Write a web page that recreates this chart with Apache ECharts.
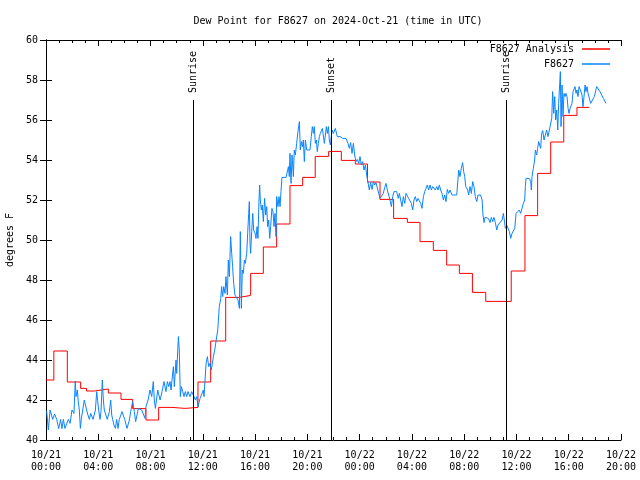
<!DOCTYPE html>
<html><head><meta charset="utf-8">
<script src="https://cdn.jsdelivr.net/npm/echarts@6/dist/echarts.min.js"></script>
<style>html,body{margin:0;padding:0;background:#fff}#c{width:640px;height:480px}</style>
</head><body><div id="c"></div>
<script>
const titleText = 'Dew Point for F8627 on 2024-Oct-21 (time in UTC)';
const xTickLabels = ['10/21\n00:00','10/21\n04:00','10/21\n08:00','10/21\n12:00','10/21\n16:00','10/21\n20:00','10/22\n00:00','10/22\n04:00','10/22\n08:00','10/22\n12:00','10/22\n16:00','10/22\n20:00'];
// hours since 2024-10-21 00:00 UTC
const sunTimes = [11.25, 21.81, 35.2];
const sunLabels = ['Sunrise', 'Sunset', 'Sunrise'];

// F8627 Analysis (hourly step values), start time of each step
const anaTimes = [0,0.6,1.63,2.65,3.1,3.7,4.77,5.74,6.63,7.65,8.62,9.64,10.66,11.63,12.6,13.75,14.79,15.66,16.63,17.65,18.67,19.64,20.6,21.63,22.6,23.67,24.6,25.56,26.6,27.65,28.62,29.64,30.66,31.63,32.63,33.65,35.6,36.65,37.62,38.62,39.62,40.63,41.57];
const anaValues = [43.0,44.45,42.9,42.58,42.45,42.55,42.35,42.03,41.57,41.0,41.63,41.58,41.63,42.9,44.95,47.13,47.23,48.33,49.65,50.8,52.72,53.13,54.18,54.43,53.98,53.8,52.9,52.03,51.08,50.88,49.92,49.48,48.75,48.33,47.38,46.93,48.45,51.22,53.33,54.9,56.23,56.63,56.63];

// F8627 observations
const obsTimes = [0.05,0.18,0.31,0.51,0.66,0.82,0.97,1.12,1.22,1.33,1.45,1.71,1.84,1.99,2.14,2.24,2.30,2.40,2.47,2.55,2.63,2.70,2.81,2.93,3.01,3.11,3.21,3.32,3.42,3.60,3.78,3.88,3.95,4.03,4.13,4.21,4.31,4.39,4.46,4.69,4.85,4.95,5.03,5.10,5.20,5.31,5.41,5.51,5.61,5.82,6.02,6.20,6.38,6.48,6.63,6.76,6.86,7.07,7.32,7.58,7.65,7.81,7.96,8.09,8.21,8.29,8.37,8.55,8.73,8.88,9.03,9.18,9.29,9.39,9.49,9.57,9.64,9.75,9.82,9.95,10.00,10.13,10.20,10.28,10.36,10.46,10.56,10.66,10.77,10.87,11.02,11.15,11.33,11.43,11.53,11.63,11.79,11.89,12.04,12.09,12.25,12.35,12.45,12.55,12.65,12.81,12.91,
13.01,13.14,13.26,13.37,13.44,13.52,13.60,13.70,13.77,13.88,13.95,14.03,14.08,14.13,14.21,14.28,14.36,14.46,14.59,14.69,14.80,14.87,14.95,15.02,15.10,15.18,15.25,15.36,15.43,15.51,15.56,15.61,15.66,15.74,15.82,15.89,16.00,16.07,16.15,16.22,16.30,16.35,16.40,16.48,16.55,16.63,16.73,16.81,16.89,16.96,17.04,17.12,17.19,17.29,17.37,17.45,17.52,17.60,17.65,17.75,17.83,17.91,17.98,18.06,18.21,18.37,18.47,18.55,18.62,18.67,18.75,18.83,18.93,19.00,19.08,19.18,19.28,19.39,19.46,19.54,19.62,19.69,19.77,19.85,19.95,20.08,20.20,20.30,20.38,20.46,20.53,20.61,20.69,20.76,20.84,20.92,20.99,21.07,21.15,21.22,21.30,21.38,21.45,21.53,21.61,21.68,21.76,21.84,21.91,
21.99,22.14,22.29,22.50,22.70,22.80,22.96,23.11,23.21,23.31,23.42,23.52,23.62,23.72,23.82,23.93,24.03,24.13,24.23,24.33,24.44,24.54,24.64,24.74,24.84,24.95,25.05,25.15,25.25,25.36,25.46,25.56,25.71,25.81,25.92,26.02,26.12,26.22,26.32,26.43,26.53,26.63,26.83,26.96,27.04,27.14,27.24,27.35,27.45,27.55,27.65,27.75,27.86,27.96,28.06,28.16,28.26,28.37,28.47,28.57,28.67,28.77,28.88,28.98,29.08,29.18,29.28,29.39,29.49,29.59,29.69,29.79,29.90,30.00,30.10,30.20,30.30,30.41,30.51,30.61,30.71,30.81,30.92,31.07,31.22,31.43,31.53,31.58,31.68,31.78,31.88,31.96,32.04,32.12,32.19,32.27,32.34,32.45,32.55,32.65,32.75,32.85,32.96,33.06,33.16,33.26,33.37,33.44,33.52,33.59,33.72,33.85,33.98,34.08,34.18,34.28,34.39,34.49,34.59,34.74,34.90,35.00,35.07,35.15,35.25,35.38,35.46,35.56,35.66,35.76,35.87,35.97,
36.12,36.22,36.32,36.43,36.53,36.63,36.68,36.73,36.86,36.99,37.09,37.14,37.19,37.29,37.39,37.45,37.55,37.62,37.70,37.78,37.85,37.93,38.01,38.11,38.21,38.31,38.41,38.52,38.62,38.70,38.77,38.85,38.93,39.00,39.08,39.16,39.23,39.31,39.36,39.41,39.49,39.56,39.64,39.72,39.79,39.87,39.95,40.02,40.10,40.18,40.25,40.33,40.41,40.48,40.56,40.63,40.71,40.79,40.86,40.94,41.02,41.09,41.17,41.25,41.32,41.40,41.48,41.58,41.68,41.81,41.96,42.14,42.39,42.65,42.85];
const obsValues = [41.45,40.5,41.5,41.03,41.3,41.03,40.57,41.03,40.57,41.03,40.58,41.03,40.83,41.5,41.33,42.95,42.17,42.5,41.92,41.5,40.58,41.03,41.5,42.0,41.92,41.5,41.25,41.03,41.33,41.03,41.5,42.42,41.97,41.5,41.03,41.42,43.0,42.0,41.5,41.03,41.42,42.0,41.25,41.03,40.75,40.58,41.03,40.58,41.03,41.42,41.03,40.58,41.0,41.42,41.92,41.42,40.92,41.58,41.5,41.08,41.67,42.0,42.5,42.17,42.92,42.0,41.58,42.5,42.0,42.42,42.92,42.42,42.92,42.67,42.92,42.5,43.0,43.67,42.67,44.0,43.33,45.17,44.5,42.17,42.67,42.42,42.17,42.42,42.17,42.42,42.17,42.42,42.17,42.0,42.17,41.67,42.08,42.0,42.5,42.17,43.83,44.17,43.67,43.83,43.5,44.17,44.5,
44.58,45.5,46.67,47.08,47.67,47.17,47.67,47.33,48.17,47.25,49.0,48.17,49.17,50.17,49.33,48.67,47.83,47.25,47.17,47.0,46.58,50.42,46.58,48.5,48.33,49.0,48.83,49.33,50.33,51.33,51.92,49.83,49.33,50.42,51.33,50.5,50.33,50.08,50.67,50.08,52.0,52.75,52.0,51.5,51.75,50.92,52.08,51.25,51.67,50.67,51.0,50.08,50.67,51.58,51.42,50.67,51.33,50.17,52.17,51.67,52.17,51.67,52.42,53.13,53.13,53.13,53.13,53.67,53.17,54.33,52.83,54.25,53.17,54.5,54.25,54.83,55.42,55.92,54.5,54.92,54.67,55.0,53.92,55.0,54.5,54.5,54.5,55.17,55.67,55.33,55.67,54.83,55.0,54.42,54.83,55.17,55.33,55.42,55.58,55.67,54.83,55.25,55.67,55.33,55.67,55.0,54.75,55.25,55.5,
55.33,55.58,55.17,55.17,55.08,55.0,55.08,54.83,54.58,54.87,54.33,54.83,54.25,53.92,54.03,53.83,54.17,53.75,53.92,53.5,53.75,53.25,53.33,52.5,52.87,52.53,52.92,52.75,52.87,52.83,52.33,52.08,52.03,52.33,52.63,52.83,52.5,52.25,52.0,51.67,52.17,52.42,52.42,52.08,52.33,52.0,51.67,52.17,51.83,52.33,52.42,52.08,52.0,51.83,51.5,52.0,52.17,51.92,52.08,52.0,51.83,51.58,52.17,52.42,52.58,52.75,52.5,52.75,52.5,52.67,52.75,52.5,52.67,52.5,52.75,52.5,52.33,52.0,52.25,51.92,52.53,52.33,52.5,52.25,52.25,52.25,52.25,53.5,53.17,53.58,53.87,53.42,53.17,52.67,52.75,52.5,52.25,52.67,52.33,52.92,52.67,52.17,51.92,52.25,52.17,52.25,52.0,51.25,50.87,51.13,51.13,51.08,50.87,51.13,50.92,51.13,50.87,50.5,50.75,50.75,51.0,51.33,51.0,50.58,50.75,50.67,50.42,50.08,50.33,50.25,50.58,51.33,
51.33,51.5,51.33,51.42,51.83,52.0,52.67,53.08,53.17,53.08,52.92,52.5,53.17,53.58,54.0,54.5,54.25,54.58,54.92,54.75,54.58,55.33,55.47,55.0,55.25,55.5,55.17,55.5,55.42,56.08,57.42,56.33,57.17,56.0,56.5,55.5,56.83,57.83,58.42,55.67,57.75,56.17,57.33,57.17,57.33,57.17,56.58,56.33,56.58,56.5,56.83,57.42,57.33,57.67,57.33,57.5,57.17,57.67,57.58,57.75,57.25,56.67,57.17,57.75,57.42,57.67,57.33,57.25,56.83,56.83,57.17,57.67,57.42,57.08,56.83];

const FONT = 'DejaVu Sans Mono';
const anaData = anaTimes.map((t, i) => [t, anaValues[i]]);
const obsData = obsTimes.map((t, i) => [t, obsValues[i]]);
const sunData = sunTimes.map(t => [t]);

const chart = echarts.init(document.getElementById('c'), null, {renderer: 'canvas'});
const xBase = {
  type: 'value', min: 0, max: 44, interval: 4,
  axisLine: {show: true, lineStyle: {color: '#000', width: 1}},
  axisTick: {show: true, inside: true, length: 6, lineStyle: {color: '#000'}},
  minorTick: {show: true, splitNumber: 4, length: 3, lineStyle: {color: '#000'}},
  splitLine: {show: false}
};
const yBase = {
  type: 'value', min: 40, max: 60, interval: 2,
  axisLine: {show: true, lineStyle: {color: '#000', width: 1}},
  axisTick: {show: true, inside: true, length: 6, lineStyle: {color: '#000'}},
  splitLine: {show: false}
};
chart.setOption({
  animation: false,
  backgroundColor: '#fff',
  title: {text: titleText, left: 333, textAlign: 'center', top: 11,
    textStyle: {fontFamily: FONT, fontSize: 10, fontWeight: 'normal', color: '#000'}},
  grid: {left: 46, right: 19, top: 40, bottom: 40, containLabel: false, outerBoundsMode: 'none'},
  legend: {
    data: ['F8627 Analysis', 'F8627'],
    orient: 'vertical', right: 25, top: 39, align: 'right',
    icon: 'rect', itemWidth: 28, itemHeight: 1.5, itemGap: 5,
    textStyle: {fontFamily: FONT, fontSize: 10, color: '#000', padding: [0, 3, 0, 0]}
  },
  xAxis: [
    Object.assign({}, xBase, {position: 'bottom',
      axisLabel: {show: true, margin: 9, fontFamily: FONT, fontSize: 10, lineHeight: 12, color: '#000',
        formatter: v => xTickLabels[Math.round(v / 4)]}}),
    Object.assign({}, xBase, {position: 'top', axisLabel: {show: false}})
  ],
  yAxis: [
    Object.assign({}, yBase, {position: 'left',
      name: 'degrees F', nameLocation: 'middle', nameGap: 31, nameRotate: 90,
      nameTextStyle: {fontFamily: FONT, fontSize: 10, color: '#000'},
      axisLabel: {show: true, margin: 8, fontFamily: FONT, fontSize: 10, color: '#000'}}),
    Object.assign({}, yBase, {position: 'right', axisLabel: {show: false}})
  ],
  series: [
    {
      name: 'F8627 Analysis', type: 'line', step: 'end', data: anaData,
      symbol: 'none', showSymbol: false,
      lineStyle: {color: '#ff0000', width: 1}, itemStyle: {color: '#ff0000'}, z: 3
    },
    {
      name: 'F8627', type: 'line', data: obsData,
      symbol: 'none', showSymbol: false,
      lineStyle: {color: '#0a84ff', width: 1}, itemStyle: {color: '#0a84ff'}, z: 4
    },
    {
      type: 'custom', data: sunData, z: 5, silent: true,
      encode: {x: 0},
      renderItem: function (params, api) {
        const t = api.value(0);
        const pb = api.coord([t, 40]);
        const pt = api.coord([t, 57]);
        const x = Math.round(pb[0]) + 0.5;
        return {
          type: 'group',
          children: [
            {type: 'line', shape: {x1: x, y1: pb[1], x2: x, y2: pt[1]},
              style: {stroke: '#000', lineWidth: 1}},
            {type: 'text', x: x, y: pt[1] - 7, rotation: Math.PI / 2,
              style: {text: sunLabels[params.dataIndex], textAlign: 'left', textVerticalAlign: 'middle',
                font: '10px "' + FONT + '"', fill: '#000'}}
          ]
        };
      }
    }
  ]
});
</script></body></html>
